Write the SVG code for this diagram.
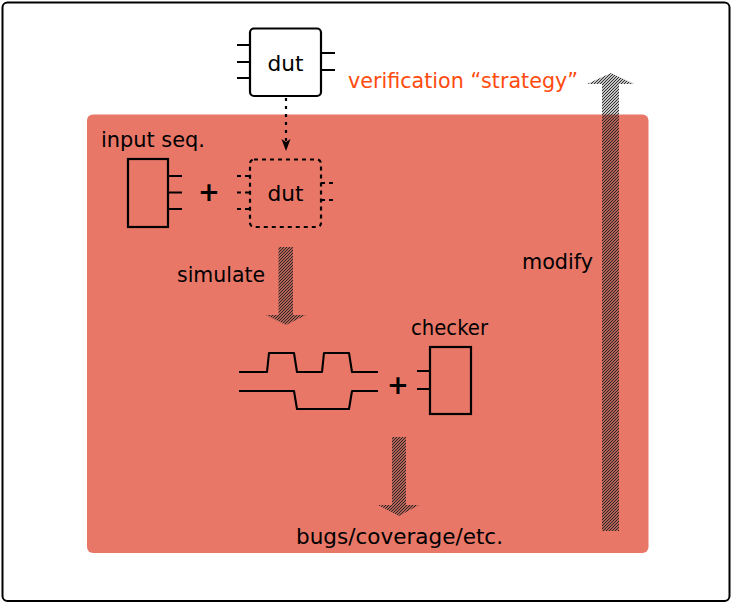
<svg xmlns="http://www.w3.org/2000/svg" width="732" height="603" viewBox="0 0 732 603">
  <style>
    .lbl { font-family: "DejaVu Sans", "Liberation Sans", sans-serif; font-size: 22px; fill: #000; }
    .strat { fill: #FF4A0E; }
    .box { fill: none; stroke: #000; stroke-width: 2.2; }
    .pin { stroke: #000; stroke-width: 2; fill: none; }
    .dash { stroke: #000; stroke-width: 2.2; fill: none; stroke-dasharray: 4 4; }
    .wave { stroke: #000; stroke-width: 2.1; fill: none; stroke-linejoin: round; }
    .plus { font-family: "DejaVu Sans", sans-serif; font-size: 26px; font-weight: bold; fill: #000; }
    .hatch { fill: url(#nelines); }
  </style>
  <defs>
    <!-- north-east hatching for the block arrows -->
    <pattern id="nelines" patternUnits="userSpaceOnUse" width="3" height="3">
      <path d="M-1,1 L1,-1 M0,3 L3,0 M2,4 L4,2" stroke="#222" stroke-width="1.05"/>
    </pattern>
  </defs>

  <!-- outer frame -->
  <rect x="2.5" y="2.5" width="727" height="598.5" rx="5" fill="#fff" stroke="#000" stroke-width="2"/>

  <!-- verification region -->
  <rect id="region" x="87" y="114.5" width="561.5" height="438.5" rx="6" fill="#E87768"/>

  <text class="lbl strat" x="348" y="88" textLength="230" lengthAdjust="spacingAndGlyphs">verification “strategy”</text>

  <!-- design under test -->
  <g id="dut">
    <rect class="box" x="250" y="28.5" width="71" height="67.5" rx="4"/>
    <path class="pin" d="M237,45 H250 M237,62 H250 M237,78 H250 M321,53 H335 M321,70 H335"/>
    <text class="lbl" x="285.5" y="71" text-anchor="middle" textLength="36" lengthAdjust="spacingAndGlyphs">dut</text>
  </g>

  <!-- dut copy inside the loop -->
  <g id="dut-copy">
    <rect class="dash" x="250" y="159.5" width="71" height="67.5" rx="4"/>
    <path class="dash" d="M237,176 H250 M237,192.5 H250 M237,209 H250 M321,183 H335 M321,200 H335" stroke-dasharray="3 5"/>
    <text class="lbl" x="285.5" y="201" text-anchor="middle" textLength="36" lengthAdjust="spacingAndGlyphs">dut</text>
  </g>

  <!-- input sequence generator -->
  <g id="input-seq">
    <text class="lbl" x="101" y="147" textLength="104" lengthAdjust="spacingAndGlyphs">input seq.</text>
    <rect class="box" x="128" y="159" width="40" height="68"/>
    <path class="pin" d="M168,176 H182 M168,192.5 H182 M168,209 H182"/>
  </g>
  <text class="plus" x="209" y="201" text-anchor="middle">+</text>

  <!-- waveforms -->
  <g id="waves">
    <path class="wave" d="M239,372 H267 L269,353 H294 L297,372 H322 L324,353 H349 L352,372 H378"/>
    <path class="wave" d="M239,391 H294 L297,409 H349 L352,391 H378"/>
  </g>
  <text class="plus" x="398" y="394" text-anchor="middle">+</text>

  <!-- checker -->
  <g id="checker">
    <text class="lbl" x="411" y="335" textLength="77" lengthAdjust="spacingAndGlyphs">checker</text>
    <rect class="box" x="430" y="347" width="41" height="67"/>
    <path class="pin" d="M417,371 H430 M417,389 H430"/>
  </g>

  <text id="simulate" class="lbl" x="177" y="282" textLength="88" lengthAdjust="spacingAndGlyphs">simulate</text>
  <text id="modify" class="lbl" x="522" y="269" textLength="71" lengthAdjust="spacingAndGlyphs">modify</text>
  <text id="results" class="lbl" x="296" y="544" textLength="207" lengthAdjust="spacingAndGlyphs">bugs/coverage/etc.</text>

  <g id="connectors">
    <!-- dut into loop -->
    <path d="M286,98 V148" stroke="#000" stroke-width="2.2" stroke-dasharray="3 5" fill="none"/>
    <path d="M281.5,139 L286,151 L290.5,139 L286,142 Z" fill="#000"/>
    <!-- simulate -->
    <path class="hatch" d="M278.5,247 H293 V315 H306 L286,325 L266,315 H278.5 Z"/>
    <!-- results -->
    <path class="hatch" d="M392,437 H406 V505 H419 L399,516 L378,505 H392 Z"/>
    <!-- modify -->
    <path class="hatch" d="M602,531 V84 H587 L611,73 L634,84 H619 V531 Z"/>
  </g>
</svg>
